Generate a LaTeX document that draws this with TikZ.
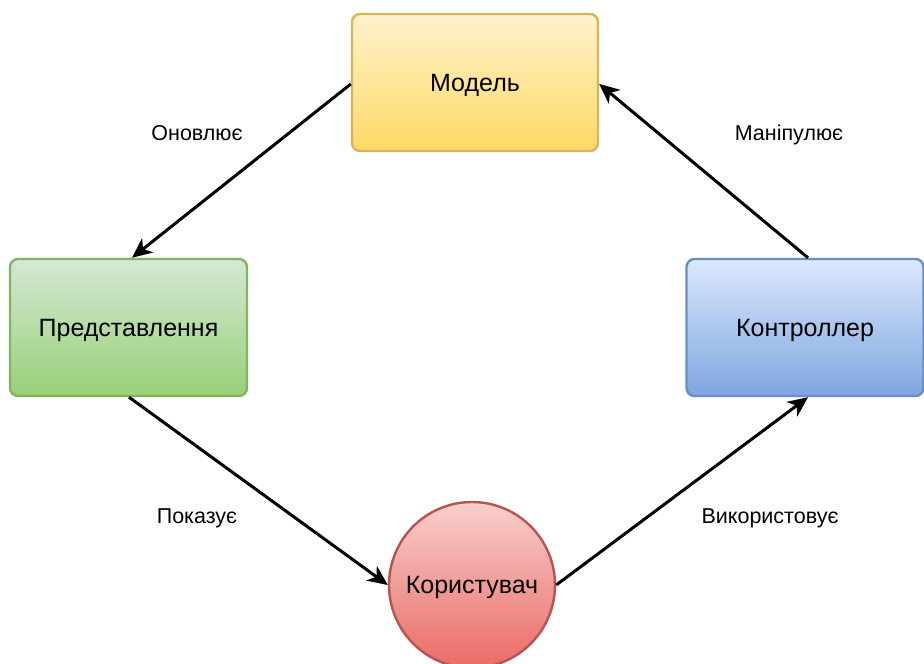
\documentclass[tikz,border=0pt]{standalone}
\usepackage{fontspec}
\setmainfont{Liberation Sans}
\usetikzlibrary{arrows.meta,shapes.geometric}
\definecolor{ylTop}{HTML}{FFF2CC}\definecolor{ylBot}{HTML}{FFD966}\definecolor{ylLine}{HTML}{D6B656}
\definecolor{grTop}{HTML}{D5E8D4}\definecolor{grBot}{HTML}{97D077}\definecolor{grLine}{HTML}{82B366}
\definecolor{blTop}{HTML}{DAE8FC}\definecolor{blBot}{HTML}{7EA6E0}\definecolor{blLine}{HTML}{6C8EBF}
\definecolor{rdTop}{HTML}{F8CECC}\definecolor{rdBot}{HTML}{EA6B66}\definecolor{rdLine}{HTML}{B85450}
\tikzset{
  box/.style={rectangle, rounded corners=8pt, line width=2.4pt, minimum width=#1, minimum height=137pt,
    font=\fontsize{25}{30}\selectfont, inner sep=0pt, text depth=0pt},
  box/.default=237pt,
  flow/.style={line width=3pt, -{Stealth[length=20pt,width=18pt,inset=6pt]}},
  lbl/.style={font=\fontsize{21.5}{26}\selectfont, inner sep=0pt, text depth=0pt},
}
\begin{document}
\begin{tikzpicture}[x=1pt,y=1pt]
  \useasboundingbox (0,0) rectangle (924,-664);
  \clip (0,0) rectangle (924,-664);
  \node[box=246pt, draw=ylLine, top color=ylTop, bottom color=ylBot] (model) at (475,-82.5) {Модель};
  \node[box, draw=grLine, top color=grTop, bottom color=grBot] (view) at (128.5,-327.5) {Представлення};
  \node[box, draw=blLine, top color=blTop, bottom color=blBot] (ctrl) at (805,-327.5) {Контроллер};
  \node[circle, minimum size=166pt, inner sep=0pt, line width=2.4pt, draw=rdLine, top color=rdTop, bottom color=rdBot,
        font=\fontsize{25}{30}\selectfont, text depth=0pt] (user) at (472,-585) {Користувач};

  \coordinate (mL) at (352,-84);
  \coordinate (mR) at (599,-84);
  \draw[flow] (model.west |- mL) -- (view.north -| 132,0);
  \draw[flow] (view.south -| 129,0) -- (user.west);
  \draw[flow] (user.east) -- (ctrl.south -| 808,0);
  \draw[flow] (ctrl.north -| 808,0) -- (model.east |- mR);

  \node[lbl] (l1) at (197,-133) {Оновлює};
  \node[lbl] (l2) at (789,-133) {Маніпулює};
  \node[lbl] (l3) at (197,-516) {Показує};
  \node[lbl] (l4) at (770,-516) {Використовує};
\end{tikzpicture}
\end{document}
